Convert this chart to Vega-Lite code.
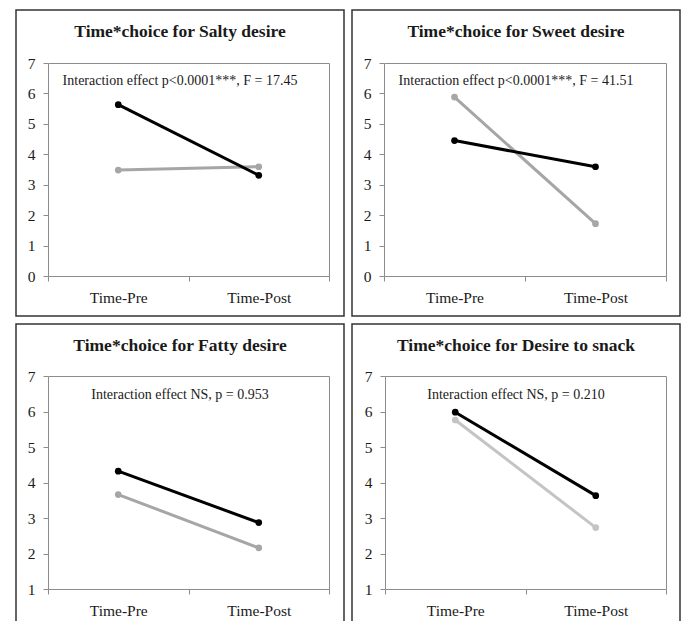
{
  "$schema": "https://vega.github.io/schema/vega-lite/v6.json",
  "padding": {"left": 15, "top": 9, "right": 0, "bottom": 0},
  "background": "white",
  "data": {"values": [
    {"panel": "Salty", "group": "Choice B", "time": "Time-Pre", "value": 3.48},
    {"panel": "Salty", "group": "Choice B", "time": "Time-Post", "value": 3.59},
    {"panel": "Salty", "group": "Choice A", "time": "Time-Pre", "value": 5.63},
    {"panel": "Salty", "group": "Choice A", "time": "Time-Post", "value": 3.31},
    {"panel": "Sweet", "group": "Choice B", "time": "Time-Pre", "value": 5.88},
    {"panel": "Sweet", "group": "Choice B", "time": "Time-Post", "value": 1.72},
    {"panel": "Sweet", "group": "Choice A", "time": "Time-Pre", "value": 4.45},
    {"panel": "Sweet", "group": "Choice A", "time": "Time-Post", "value": 3.59},
    {"panel": "Fatty", "group": "Choice B", "time": "Time-Pre", "value": 3.66},
    {"panel": "Fatty", "group": "Choice B", "time": "Time-Post", "value": 2.16},
    {"panel": "Fatty", "group": "Choice A", "time": "Time-Pre", "value": 4.32},
    {"panel": "Fatty", "group": "Choice A", "time": "Time-Post", "value": 2.87},
    {"panel": "Snack", "group": "Choice B", "time": "Time-Pre", "value": 5.76},
    {"panel": "Snack", "group": "Choice B", "time": "Time-Post", "value": 2.73},
    {"panel": "Snack", "group": "Choice A", "time": "Time-Pre", "value": 5.98},
    {"panel": "Snack", "group": "Choice A", "time": "Time-Post", "value": 3.63}
  ]},
  "columns": 2,
  "concat": [
    {
      "width": 328, "height": 306,
      "title": {"text": "Time*choice for Salty desire", "subtitle": "Interaction effect p<0.0001***,  F = 17.45"},
      "transform": [{"filter": "datum.panel === 'Salty'"}],
      "layer": [
        {
          "mark": {"type": "line", "strokeWidth": 3, "point": {"size": 45, "filled": true, "opacity": 1}},
          "encoding": {
            "x": {"field": "time", "type": "nominal", "scale": {"type": "band", "domain": ["Time-Pre", "Time-Post"], "range": [32, 313], "paddingInner": 0, "paddingOuter": 0}, "axis": {"orient": "bottom", "offset": -40, "tickBand": "extent", "title": null, "labelAngle": 0, "labelPadding": 9}},
            "y": {"field": "value", "type": "quantitative", "scale": {"domain": [0, 7], "range": [266, 53], "nice": false, "zero": false}, "axis": {"orient": "left", "offset": -32, "values": [0, 1, 2, 3, 4, 5, 6, 7], "title": null, "labelPadding": 8}},
            "color": {"field": "group", "type": "nominal", "scale": {"domain": ["Choice A", "Choice B"], "range": ["#000000", "#a6a6a6"]}, "legend": null}
          }
        },
        {
          "mark": {"type": "point", "opacity": 0},
          "encoding": {
            "x": {"field": "time", "type": "nominal", "axis": {"orient": "top", "offset": -53, "labels": false, "ticks": false, "title": null}},
            "y": {"field": "value", "type": "quantitative", "axis": {"orient": "right", "offset": -15, "labels": false, "ticks": false, "title": null}}
          }
        }
      ],
      "resolve": {"axis": {"x": "independent", "y": "independent"}}
    },
    {
      "width": 328, "height": 306,
      "title": {"text": "Time*choice for Sweet desire", "subtitle": "Interaction effect p<0.0001***,  F = 41.51"},
      "transform": [{"filter": "datum.panel === 'Sweet'"}],
      "layer": [
        {
          "mark": {"type": "line", "strokeWidth": 3, "point": {"size": 45, "filled": true, "opacity": 1}},
          "encoding": {
            "x": {"field": "time", "type": "nominal", "scale": {"type": "band", "domain": ["Time-Pre", "Time-Post"], "range": [32, 314], "paddingInner": 0, "paddingOuter": 0}, "axis": {"orient": "bottom", "offset": -40, "tickBand": "extent", "title": null, "labelAngle": 0, "labelPadding": 9}},
            "y": {"field": "value", "type": "quantitative", "scale": {"domain": [0, 7], "range": [266, 53], "nice": false, "zero": false}, "axis": {"orient": "left", "offset": -32, "values": [0, 1, 2, 3, 4, 5, 6, 7], "title": null, "labelPadding": 8}},
            "color": {"field": "group", "type": "nominal", "scale": {"domain": ["Choice A", "Choice B"], "range": ["#000000", "#a6a6a6"]}, "legend": null}
          }
        },
        {
          "mark": {"type": "point", "opacity": 0},
          "encoding": {
            "x": {"field": "time", "type": "nominal", "axis": {"orient": "top", "offset": -53, "labels": false, "ticks": false, "title": null}},
            "y": {"field": "value", "type": "quantitative", "axis": {"orient": "right", "offset": -14, "labels": false, "ticks": false, "title": null}}
          }
        }
      ],
      "resolve": {"axis": {"x": "independent", "y": "independent"}}
    },
    {
      "width": 328, "height": 300,
      "title": {"text": "Time*choice for Fatty desire", "subtitle": "Interaction effect NS, p = 0.953"},
      "transform": [{"filter": "datum.panel === 'Fatty'"}],
      "layer": [
        {
          "mark": {"type": "line", "strokeWidth": 3, "point": {"size": 45, "filled": true, "opacity": 1}},
          "encoding": {
            "x": {"field": "time", "type": "nominal", "scale": {"type": "band", "domain": ["Time-Pre", "Time-Post"], "range": [32, 313], "paddingInner": 0, "paddingOuter": 0}, "axis": {"orient": "bottom", "offset": -35, "tickBand": "extent", "title": null, "labelAngle": 0, "labelPadding": 9}},
            "y": {"field": "value", "type": "quantitative", "scale": {"domain": [1, 7], "range": [265, 52], "nice": false, "zero": false}, "axis": {"orient": "left", "offset": -32, "values": [1, 2, 3, 4, 5, 6, 7], "title": null, "labelPadding": 8}},
            "color": {"field": "group", "type": "nominal", "scale": {"domain": ["Choice A", "Choice B"], "range": ["#000000", "#a6a6a6"]}, "legend": null}
          }
        },
        {
          "mark": {"type": "point", "opacity": 0},
          "encoding": {
            "x": {"field": "time", "type": "nominal", "axis": {"orient": "top", "offset": -52, "labels": false, "ticks": false, "title": null}},
            "y": {"field": "value", "type": "quantitative", "axis": {"orient": "right", "offset": -15, "labels": false, "ticks": false, "title": null}}
          }
        }
      ],
      "resolve": {"axis": {"x": "independent", "y": "independent"}}
    },
    {
      "width": 328, "height": 300,
      "title": {"text": "Time*choice for Desire to snack", "subtitle": "Interaction effect NS, p = 0.210"},
      "transform": [{"filter": "datum.panel === 'Snack'"}],
      "layer": [
        {
          "mark": {"type": "line", "strokeWidth": 3, "point": {"size": 45, "filled": true, "opacity": 1}},
          "encoding": {
            "x": {"field": "time", "type": "nominal", "scale": {"type": "band", "domain": ["Time-Pre", "Time-Post"], "range": [33, 314], "paddingInner": 0, "paddingOuter": 0}, "axis": {"orient": "bottom", "offset": -35, "tickBand": "extent", "title": null, "labelAngle": 0, "labelPadding": 9}},
            "y": {"field": "value", "type": "quantitative", "scale": {"domain": [1, 7], "range": [265, 52], "nice": false, "zero": false}, "axis": {"orient": "left", "offset": -33, "values": [1, 2, 3, 4, 5, 6, 7], "title": null, "labelPadding": 8}},
            "color": {"field": "group", "type": "nominal", "scale": {"domain": ["Choice A", "Choice B"], "range": ["#000000", "#c4c4c4"]}, "legend": null}
          }
        },
        {
          "mark": {"type": "point", "opacity": 0},
          "encoding": {
            "x": {"field": "time", "type": "nominal", "axis": {"orient": "top", "offset": -52, "labels": false, "ticks": false, "title": null}},
            "y": {"field": "value", "type": "quantitative", "axis": {"orient": "right", "offset": -14, "labels": false, "ticks": false, "title": null}}
          }
        }
      ],
      "resolve": {"axis": {"x": "independent", "y": "independent"}}
    }
  ],
  "resolve": {"scale": {"color": "independent"}},
  "config": {
    "view": {"stroke": "#333333", "strokeWidth": 1.5},
    "font": "Liberation Serif",
    "concat": {"spacing": 6},
    "axis": {"domainColor": "#8c8c8c", "tickColor": "#8c8c8c", "labelColor": "#1a1a1a", "labelFont": "Liberation Serif", "labelFontSize": 15.5, "grid": false, "tickSize": 5, "domainWidth": 1},
    "title": {"font": "Liberation Serif", "fontSize": 17.5, "fontWeight": "bold", "color": "#1a1a1a", "anchor": "middle", "frame": "group", "offset": -78, "subtitleFont": "Liberation Serif", "subtitleFontSize": 14, "subtitleColor": "#1a1a1a", "subtitlePadding": 34}
  }
}
